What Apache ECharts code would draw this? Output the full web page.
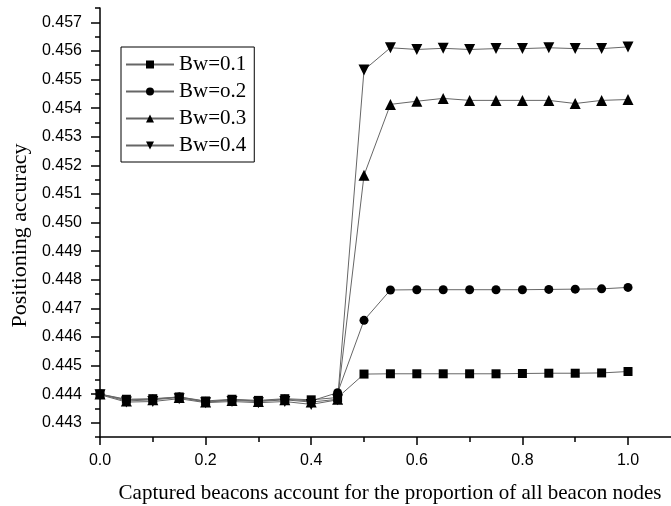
<!DOCTYPE html>
<html>
<head>
<meta charset="utf-8">
<script src="https://cdn.jsdelivr.net/npm/echarts@6/dist/echarts.min.js"></script>
<style>
html,body{margin:0;padding:0;background:#fff;}
#main{width:671px;height:506px;}
</style>
</head>
<body>
<div id="main"></div>
<script>
var xs = [0, 0.05, 0.1, 0.15, 0.2, 0.25, 0.3, 0.35, 0.4, 0.45, 0.5, 0.55, 0.6, 0.65, 0.7, 0.75, 0.8, 0.85, 0.9, 0.95, 1.0];
var bw1 = [0.44400,0.44382,0.44384,0.44390,0.44376,0.44382,0.44378,0.44384,0.44380,0.44388,
           0.44470,0.44471,0.44471,0.44471,0.44471,0.44471,0.44472,0.44473,0.44473,0.44474,0.44479];
var bw2 = [0.44400,0.44380,0.44382,0.44390,0.44374,0.44380,0.44376,0.44382,0.44376,0.44405,
           0.44658,0.44764,0.44765,0.44765,0.44765,0.44765,0.44765,0.44766,0.44767,0.44768,0.44773];
var bw3 = [0.44400,0.44376,0.44380,0.44388,0.44372,0.44378,0.44374,0.44380,0.44372,0.44382,
           0.45165,0.45413,0.45424,0.45434,0.45427,0.45427,0.45427,0.45427,0.45416,0.45427,0.45430];
var bw4 = [0.44398,0.44372,0.44374,0.44384,0.44370,0.44374,0.44370,0.44374,0.44364,0.44380,
           0.45533,0.45611,0.45605,0.45609,0.45605,0.45608,0.45608,0.45611,0.45608,0.45608,0.45614];
var names = ['Bw=0.1', 'Bw=o.2', 'Bw=0.3', 'Bw=0.4'];
var yMajor = [0.443,0.444,0.445,0.446,0.447,0.448,0.449,0.450,0.451,0.452,0.453,0.454,0.455,0.456,0.457];
var xMajor = [0, 0.2, 0.4, 0.6, 0.8, 1.0];
var xMinor = [0, 0.1, 0.2, 0.3, 0.4, 0.5, 0.6, 0.7, 0.8, 0.9, 1.0];

function pairs(ys){
    var out = [];
    for (var i = 0; i < xs.length; i++) out.push([xs[i], ys[i]]);
    return out;
}
var yMinor = [];
for (var k = 0; k <= 30; k++) yMinor.push(+(0.4425 + k * 0.0005).toFixed(4));

var serif = 'Liberation Serif';
var sans = 'Liberation Sans';
var lineCol = '#666';

function mkSeries(name, ys, symbol, size, rot){
    return {
        name: name, type: 'line', data: pairs(ys),
        symbol: symbol, symbolSize: size, symbolRotate: rot || 0,
        showSymbol: true, animation: false,
        lineStyle: {color: lineCol, width: 1},
        itemStyle: {color: '#000'}
    };
}

var chart = echarts.init(document.getElementById('main'));
chart.setOption({
    animation: false,
    grid: {left: 100, right: 0, top: 8, bottom: 69, outerBoundsMode: 'none', containLabel: false},
    legend: {
        orient: 'vertical', left: 121, top: 47,
        data: names,
        itemWidth: 48, itemHeight: 10, itemGap: 6,
        borderColor: '#000', borderWidth: 1, padding: [7, 8, 6, 4],
        textStyle: {fontFamily: serif, fontSize: 21, color: '#000', lineHeight: 21}
    },
    xAxis: [{
        type: 'value', min: 0, max: 1.0814,
        name: 'Captured beacons account for the proportion of all beacon nodes',
        nameLocation: 'middle', nameGap: 46,
        nameTextStyle: {fontFamily: serif, fontSize: 21, color: '#000', padding: [0, 0, 0, 9]},
        axisLine: {lineStyle: {color: '#000', width: 1.5}},
        axisTick: {customValues: xMajor, length: 8, lineStyle: {color: '#000', width: 1.5}},
        axisLabel: {customValues: xMajor, margin: 16, fontFamily: sans, fontSize: 16, color: '#000',
            formatter: function(v){ return v.toFixed(1); }},
        splitLine: {show: false}
    }, {
        type: 'value', min: 0, max: 1.0814, position: 'bottom',
        axisLine: {show: false},
        axisTick: {customValues: xMinor, length: 5, lineStyle: {color: '#000', width: 1.5}},
        axisLabel: {show: false},
        splitLine: {show: false}
    }],
    yAxis: [{
        type: 'value', min: 0.4425, max: 0.4575,
        name: 'Positioning accuracy',
        nameLocation: 'middle', nameGap: 64, nameRotate: 90,
        nameTextStyle: {fontFamily: serif, fontSize: 22, color: '#000', padding: [0, 26, 0, 0]},
        axisLine: {show: true, lineStyle: {color: '#000', width: 1.5}},
        axisTick: {show: true, customValues: yMajor, length: 9, lineStyle: {color: '#000', width: 1.5}},
        axisLabel: {customValues: yMajor, margin: 18, fontFamily: sans, fontSize: 16, color: '#000',
            formatter: function(v){ return v.toFixed(3); }},
        splitLine: {show: false}
    }, {
        type: 'value', min: 0.4425, max: 0.4575, position: 'left',
        axisLine: {show: false},
        axisTick: {show: true, customValues: yMinor, length: 5, lineStyle: {color: '#000', width: 1.5}},
        axisLabel: {show: false},
        splitLine: {show: false}
    }],
    series: [
        mkSeries(names[0], bw1, 'rect', 9),
        mkSeries(names[1], bw2, 'circle', 9),
        mkSeries(names[2], bw3, 'triangle', 11),
        mkSeries(names[3], bw4, 'triangle', 11, 180)
    ]
});
</script>
</body>
</html>
